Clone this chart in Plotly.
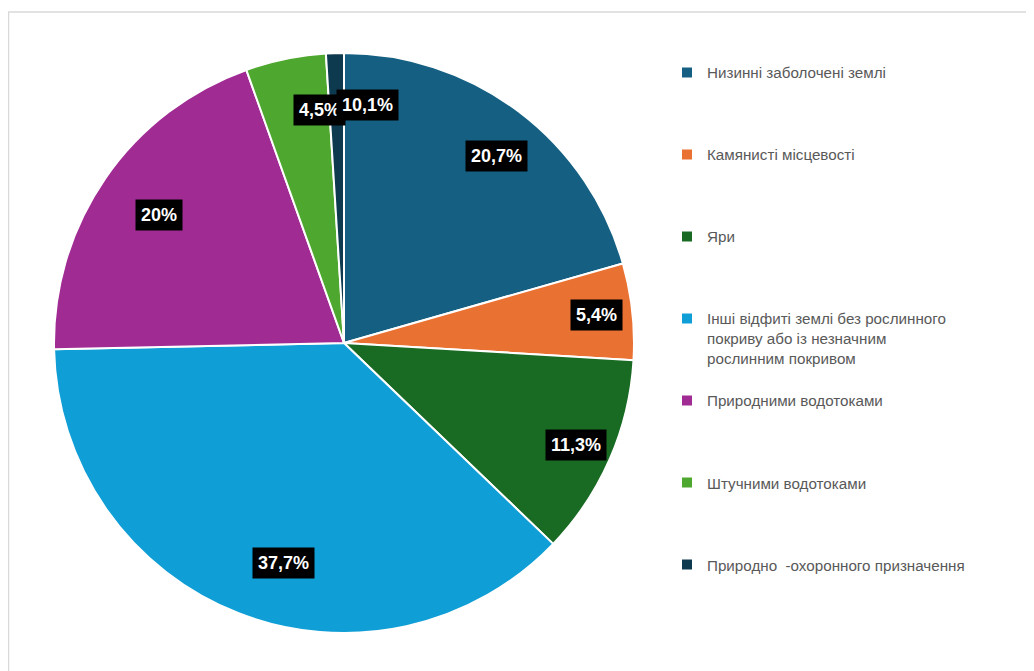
import math
import plotly.graph_objects as go

categories = [
    "Низинні заболочені землі",
    "Камянисті місцевості",
    "Яри",
    "Інші відфиті землі без рослинного<br>покриву або із незначним<br>рослинним покривом",
    "Природними водотоками",
    "Штучними водотоками",
    "Природно  -охоронного призначення",
]
values = [20.7, 5.4, 11.3, 37.7, 20.0, 4.5, 1.0]
label_texts = ["20,7%", "5,4%", "11,3%", "37,7%", "20%", "4,5%", "10,1%"]
colors = ["#156082", "#E97132", "#196B24", "#0F9ED5", "#A02B93", "#4EA72E", "#0D3A4F"]

W, H = 1034, 671
OFF = 8  # page body margin
CX, CY, R = 344 - OFF, 343 - OFF, 290  # pie centre / radius in figure pixels

# pad every legend entry to 4 lines so entries are evenly spaced
def pad(lbl, total=4):
    n = lbl.count("<br>") + 1
    return lbl + "<br> " * (total - n)

legend_names = [pad(c) for c in categories]

fig = go.Figure()
fig.add_trace(go.Pie(
    labels=legend_names,
    values=values,
    sort=False,
    direction="clockwise",
    rotation=0,
    marker=dict(colors=colors, line=dict(color="white", width=2)),
    textinfo="none",
    hoverinfo="label+percent",
    domain=dict(x=[(CX - R) / W, (CX + R) / W],
                y=[(H - CY - R) / H, (H - CY + R) / H]),
))

# data labels: placed at each slice's mid-angle, derived from the values
total = sum(values)
cum = 0.0
annotations = []
for v, t in zip(values, label_texts):
    mid = (cum + v / 2) / total * 2 * math.pi
    cum += v
    f = 0.875
    px = CX + R * f * math.sin(mid)
    py = CY - R * f * math.cos(mid)
    annotations.append(dict(
        x=px / W, y=1 - py / H, xref="paper", yref="paper",
        text=t, showarrow=False,
        font=dict(family="Liberation Sans, Arial, sans-serif", size=18, color="white", weight="bold"),
        bgcolor="black", borderpad=5,
    ))

fig.update_layout(
    width=W, height=H, autosize=False,
    margin=dict(l=0, r=0, t=0, b=0),
    paper_bgcolor="white", plot_bgcolor="white",
    showlegend=True,
    legend=dict(
        x=(667 - OFF) / W, xanchor="left",
        y=1 - (58 - OFF - 2) / H, yanchor="top",
        valign="top",
        font=dict(family="Liberation Sans, Arial, sans-serif", size=15.2, color="#595959"),
        bgcolor="rgba(0,0,0,0)",
    ),
    annotations=annotations,
    shapes=[dict(
        type="rect", xref="paper", yref="paper",
        x0=0.5 / W, x1=1.05, y0=-0.05, y1=1 - 4 / H,
        line=dict(color="#D9D9D9", width=1.5),
        fillcolor="rgba(0,0,0,0)", layer="below",
    )],
)

fig.write_html("out.html")
